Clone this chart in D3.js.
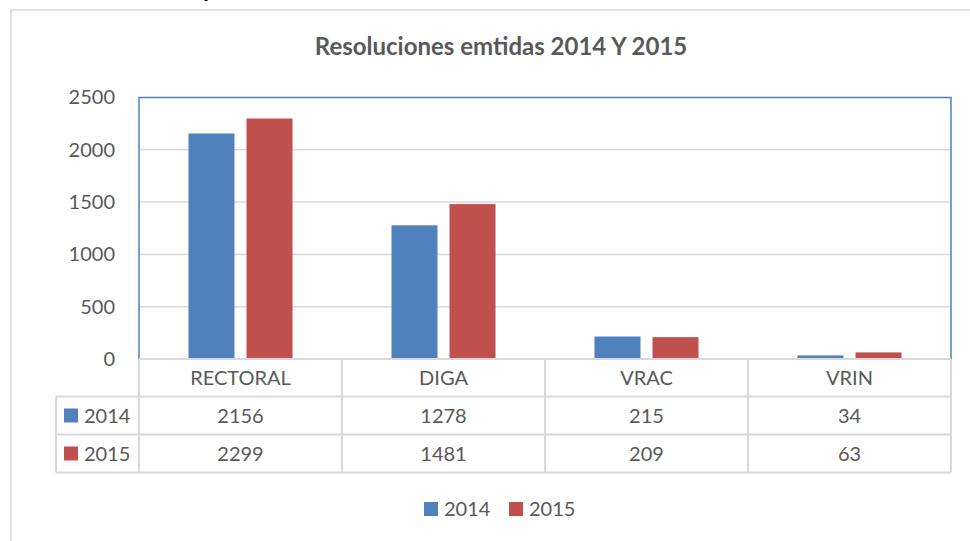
<!DOCTYPE html>
<html><head><meta charset="utf-8">
<script src="https://cdnjs.cloudflare.com/ajax/libs/d3/7.8.5/d3.min.js"></script>
<style>html,body{margin:0;padding:0;background:#fff;overflow:hidden}svg{display:block}text{font-family:Lato,"Open Sans",sans-serif;fill:#595959}</style>
</head><body>
<script>
const categories = ["RECTORAL", "DIGA", "VRAC", "VRIN"];
const seriesNames = ["2014", "2015"];
const values2014 = [2156, 1278, 215, 34];
const values2015 = [2299, 1481, 209, 63];
const yTicks = [0, 500, 1000, 1500, 2000, 2500];
const title = "Resoluciones emtidas 2014 Y 2015";
const colors = ["#4f81bd", "#c0504d"];
const seriesValues = [values2014, values2015];

const W = 970, H = 541;
const svg = d3.select("body").append("svg").attr("width", W).attr("height", H);

// outer chart frame
svg.append("rect").attr("x", 11).attr("y", 10).attr("width", 1000).attr("height", 600)
  .attr("fill", "none").attr("stroke", "#d9d9d9").attr("stroke-width", 1.5);

// cut-off text fragment above the chart
svg.append("text").attr("x", 203).attr("y", -3).text("p")
  .style("fill", "#000").style("font-weight", "bold").style("font-size", "24px");

const L = 139, R = 951, T = 97.5, B = 359;
const x = d3.scaleBand().domain(categories).range([L, R]).padding(0);
const xs = d3.scaleBand().domain(seriesNames).range([0, x.bandwidth()]).paddingInner(0.207).paddingOuter(0.853);
const y = d3.scaleLinear().domain([0, 2500]).range([B, T]);

// gridlines
svg.append("g").selectAll("line").data(yTicks.filter(d => d > 0 && d < 2500)).join("line")
  .attr("x1", L).attr("x2", R).attr("y1", d => y(d)).attr("y2", d => y(d))
  .attr("stroke", "#d9d9d9").attr("stroke-width", 1.5);

// y axis labels
const yAxis = d3.axisLeft(y).tickValues(yTicks).tickSize(0).tickPadding(24).tickFormat(d3.format("d"));
const ya = svg.append("g").attr("transform", `translate(${L},0)`).call(yAxis);
ya.select(".domain").remove();
ya.selectAll("text").style("font-size", "20px").style("fill", "#595959").style("font-family", "Lato");

// bars
seriesNames.forEach((s, si) => {
  svg.append("g").selectAll("rect").data(categories).join("rect")
    .attr("x", d => x(d) + xs(s)).attr("width", xs.bandwidth())
    .attr("y", (d, i) => y(seriesValues[si][i]))
    .attr("height", (d, i) => B - y(seriesValues[si][i]))
    .attr("fill", colors[si]);
});

// plot area border (blue)
svg.append("path").attr("d", `M${L},${B}V${T}H${R}V${B}`)
  .attr("fill", "none").attr("stroke", "#4f81bd").attr("stroke-width", 1.5);

// data table
const rowH = [359, 396.5, 434.5, 472.5];
const tLeft = 56;
const g = svg.append("g");
const gc = "#d9d9d9";
g.append("line").attr("x1", L).attr("x2", R).attr("y1", rowH[0]).attr("y2", rowH[0]).attr("stroke", gc).attr("stroke-width", 2);
[1, 2, 3].forEach(i => g.append("line").attr("x1", tLeft).attr("x2", R).attr("y1", rowH[i]).attr("y2", rowH[i]).attr("stroke", gc).attr("stroke-width", 2));
g.append("line").attr("x1", tLeft).attr("x2", tLeft).attr("y1", rowH[1]).attr("y2", rowH[3]).attr("stroke", gc).attr("stroke-width", 2);
const vx = [L].concat(categories.map(c => x(c) + x.bandwidth()));
vx.forEach(vv => g.append("line").attr("x1", vv).attr("x2", vv).attr("y1", rowH[0]).attr("y2", rowH[3]).attr("stroke", gc).attr("stroke-width", 2));

g.selectAll("text.cat").data(categories).join("text").attr("class", "cat")
  .attr("x", d => x(d) + x.bandwidth() / 2).attr("y", (rowH[0] + rowH[1]) / 2 + 7)
  .attr("text-anchor", "middle").style("font-size", "20px").text(d => d);

seriesNames.forEach((s, si) => {
  const cy = (rowH[si + 1] + rowH[si + 2]) / 2;
  g.append("rect").attr("x", 64).attr("y", cy - 7).attr("width", 14).attr("height", 14).attr("fill", colors[si]);
  g.append("text").attr("x", 84).attr("y", cy + 7).style("font-size", "20px").text(s);
  g.selectAll("text.v" + si).data(categories).join("text").attr("class", "v" + si)
    .attr("x", d => x(d) + x.bandwidth() / 2).attr("y", cy + 7)
    .attr("text-anchor", "middle").style("font-size", "20px").text((d, i) => seriesValues[si][i]);
});

// title
svg.append("text").attr("x", 501).attr("y", 55).attr("text-anchor", "middle")
  .style("font-size", "24px").style("font-weight", "bold").text(title);

// legend
const legX = [424, 509];
seriesNames.forEach((s, si) => {
  svg.append("rect").attr("x", legX[si]).attr("y", 502).attr("width", 14).attr("height", 14).attr("fill", colors[si]);
  svg.append("text").attr("x", legX[si] + 20).attr("y", 516).style("font-size", "20px").text(s);
});
</script>
</body></html>
